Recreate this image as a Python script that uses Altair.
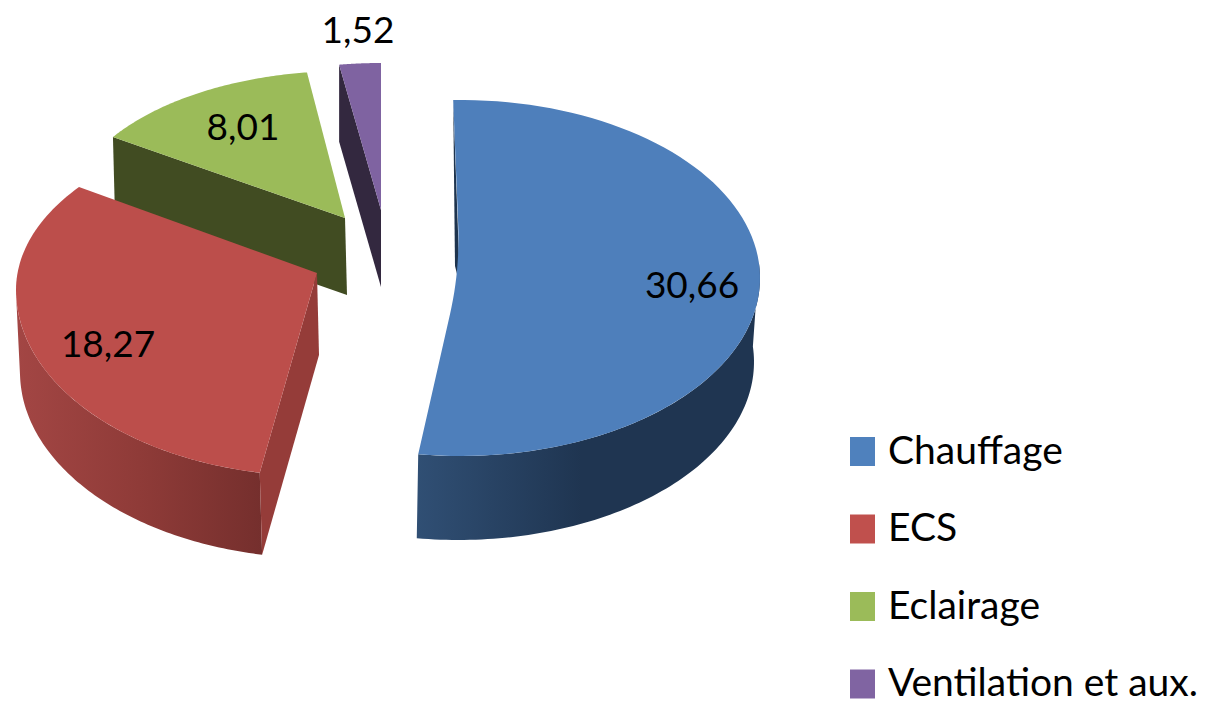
import math
import altair as alt
import pandas as pd

categories = ["Chauffage", "ECS", "Eclairage", "Ventilation et aux."]
values = [30.66, 18.27, 8.01, 1.52]
top_colors = ["#4e7fbb", "#bc4e4b", "#9bbb59", "#7f63a1"]
legend_colors = ["#4f81bd", "#c0504d", "#9bbb59", "#8064a2"]
FONT = "Lato"

# Projection of each exploded slice: ellipse of the top face, apex, wall depth,
# and the small angular distortion of the perspective at each end of the slice.
GEOM = {
    "Chauffage": dict(cx=460, cy=278, a=300, far=178, near=178, apex=(460, 270),
                      dx=-2, dy=84, da=-4, s0=-1.3, s1=-0.8, round=45),
    "ECS": dict(cx=316, cy=290, a=300, far=168, near=186, apex=(317, 273),
                dx=2, dy=82, da=-2, s0=2.0, s1=6.5, round=0),
    "Eclairage": dict(cx=345, cy=218, a=278, far=147, near=147, apex=(345, 218),
                      dx=2, dy=77, da=0, s0=2.1, s1=1.5, round=0),
    "Ventilation et aux.": dict(cx=381, cy=210, a=278, far=147, near=147, apex=(381, 210),
                                dx=0, dy=77, da=0, s0=0.7, s1=0.0, round=0),
}
LABEL_POS = {
    "Chauffage": (692, 287),
    "ECS": (108, 346),
    "Eclairage": (243, 129),
    "Ventilation et aux.": (358, 32),
}

total = sum(values)
angles = {}
acc = 0.0
for c, v in zip(categories, values):
    g = GEOM[c]
    start = acc + g["s0"]
    acc += v / total * 360.0
    angles[c] = (start, acc + g["s1"])


def rim(g, t, bottom=False):
    r = math.radians(t)
    cos_t, sin_t = math.cos(r), math.sin(r)
    b = g["far"] if cos_t > 0 else g["near"]
    cx = g["cx"] + (g["dx"] if bottom else 0)
    cy = g["cy"] + (g["dy"] if bottom else 0)
    a = g["a"] + (g["da"] if bottom else 0)
    return (cx + a * sin_t, cy - b * cos_t)


def arc(g, t0, t1, bottom=False, n=90):
    return [rim(g, t0 + (t1 - t0) * i / n, bottom) for i in range(n + 1)]


def toward(p, q, dist):
    d = math.hypot(q[0] - p[0], q[1] - p[1])
    return (p[0] + (q[0] - p[0]) * dist / d, p[1] + (q[1] - p[1]) * dist / d)


def top_face(c):
    g = GEOM[c]
    t0, t1 = angles[c]
    pts = arc(g, t0, t1)
    apex = g["apex"]
    if g["round"]:
        p0 = toward(apex, pts[-1], g["round"])
        p2 = toward(apex, pts[0], g["round"])
        for i in range(13):
            u = i / 12
            pts.append(tuple((1 - u) ** 2 * p0[k] + 2 * u * (1 - u) * apex[k] + u ** 2 * p2[k]
                             for k in (0, 1)))
    else:
        pts.append(apex)
    return pts


def outer_wall(c, t0, t1):
    g = GEOM[c]
    return arc(g, t0, t1) + arc(g, t1, t0, bottom=True)


def cut_wall(c, t):
    g = GEOM[c]
    p = rim(g, t)
    ax, ay = g["apex"]
    return [p, (ax, ay), (ax + g["dx"], ay + g["dy"]), rim(g, t, bottom=True)]


X = alt.X("x:Q", axis=None, scale=alt.Scale(domain=[8, 1199], nice=False, zero=False))
Y = alt.Y("y:Q", axis=None, scale=alt.Scale(domain=[705, 8], nice=False, zero=False))


def poly(points, fill):
    df = pd.DataFrame({"x": [p[0] for p in points], "y": [p[1] for p in points],
                       "i": list(range(len(points)))})
    return alt.Chart(df).mark_line(fill=fill, strokeWidth=0, strokeOpacity=0, clip=False).encode(
        x=X, y=Y, order="i:Q")


def grad(stops):
    return alt.Gradient(gradient="linear", x1=0, x2=1, y1=0, y2=0,
                        stops=[alt.GradientStop(offset=o, color=col) for o, col in stops])


ch, ecs, ecl, ven = categories
layers = []
# Eclairage
layers.append(poly(cut_wall(ecl, angles[ecl][0]), "#414c22"))
layers.append(poly(top_face(ecl), top_colors[2]))
# Ventilation
layers.append(poly(cut_wall(ven, angles[ven][0]), "#33283f"))
layers.append(poly(top_face(ven), top_colors[3]))
# Chauffage
gb = GEOM[ch]
start_b = rim(gb, angles[ch][0])
layers.append(poly([start_b, (gb["apex"][0] - 5, gb["apex"][1] - 4),
                    (gb["apex"][0], gb["apex"][1] + 16)], "#1e344e"))
layers.append(poly(outer_wall(ch, 85, angles[ch][1]),
                   grad([(0, "#304f74"), (0.48, "#1f3551"), (1, "#1f3551")])))
layers.append(poly(top_face(ch), top_colors[0]))
# ECS
layers.append(poly(outer_wall(ecs, 268, angles[ecs][0]),
                   grad([(0, "#a34644"), (0.5, "#8f3b38"), (1, "#752f2d")])))
layers.append(poly(cut_wall(ecs, angles[ecs][0]), "#953c39"))
layers.append(poly(top_face(ecs), top_colors[1]))

labels = pd.DataFrame({
    "cat": categories,
    "val": values,
    "txt": [f"{v:.2f}".replace(".", ",") for v in values],
    "x": [LABEL_POS[c][0] for c in categories],
    "y": [LABEL_POS[c][1] for c in categories],
})

legend = alt.Legend(
    title=None, orient="none", legendX=835, legendY=424,
    symbolType="M-1,-1.16H1V1.16H-1Z", symbolSize=625, symbolOpacity=1,
    symbolStrokeWidth=0, labelFont=FONT, labelFontSize=39, labelColor="#000000",
    labelOffset=6, rowPadding=37.5, labelLimit=400, symbolOffset=0,
)
legend_layer = alt.Chart(labels).mark_point(filled=True, opacity=0).encode(
    x=X, y=Y,
    color=alt.Color("cat:N", sort=categories,
                    scale=alt.Scale(domain=categories, range=legend_colors),
                    legend=legend),
)
text_layer = alt.Chart(labels).mark_text(
    font=FONT, fontSize=37, color="#000000", align="center", baseline="middle"
).encode(x=X, y=Y, text="txt:N")

chart = alt.layer(*layers, legend_layer, text_layer).resolve_scale(
    x="shared", y="shared"
).properties(
    width=1191, height=697, padding=0, autosize=alt.AutoSizeParams(type="none"),
    background="#ffffff"
).configure_view(stroke=None)

chart.save("out.html", embed_options={"renderer": "svg", "actions": False})
